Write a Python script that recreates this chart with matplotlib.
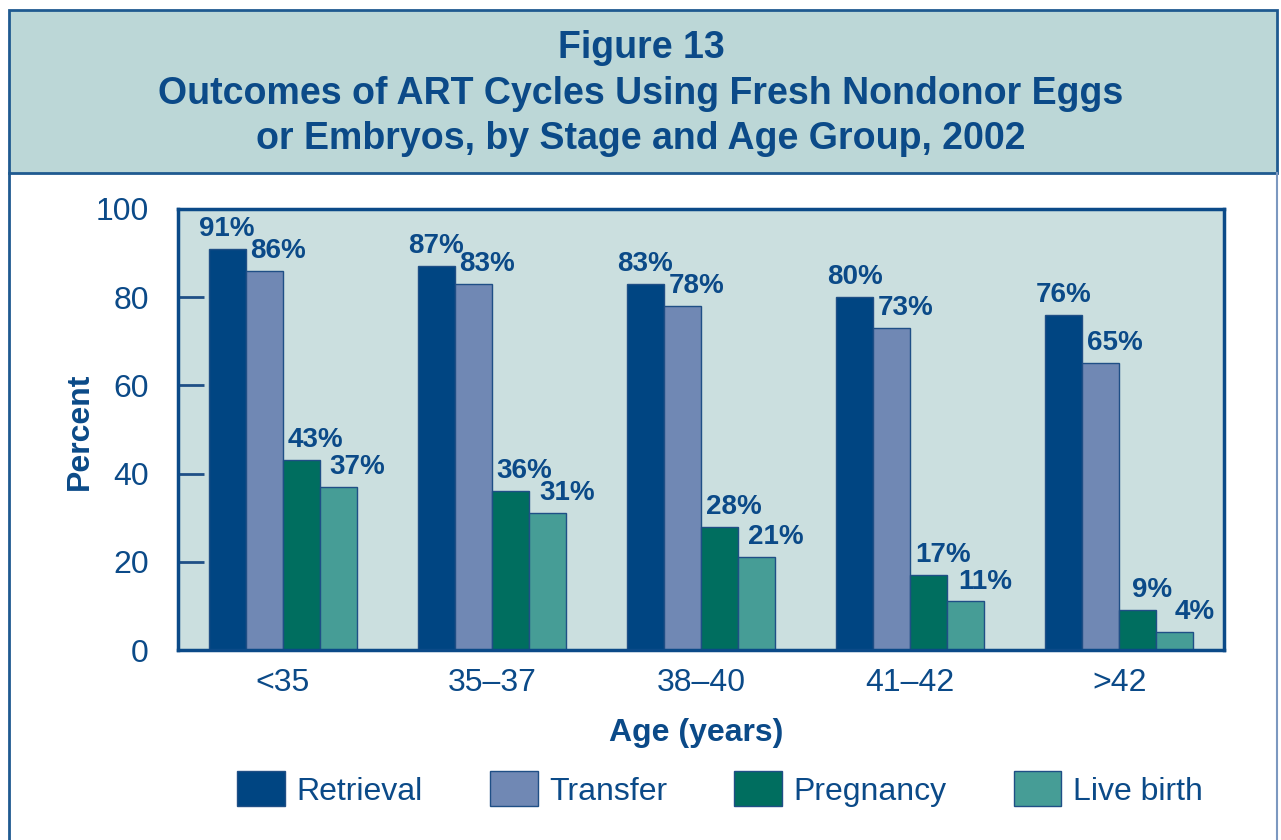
import matplotlib
matplotlib.use("Agg")
import matplotlib.pyplot as plt
import numpy as np
from matplotlib.patches import Rectangle
from matplotlib.lines import Line2D

plt.rcParams['font.family'] = ['Liberation Sans', 'DejaVu Sans']

categories = ["<35", "35\u201337", "38\u201340", "41\u201342", ">42"]
series_names = ["Retrieval", "Transfer", "Pregnancy", "Live birth"]
retrieval = [91, 87, 83, 80, 76]
transfer = [86, 83, 78, 73, 65]
pregnancy = [43, 36, 28, 17, 9]
live_birth = [37, 31, 21, 11, 4]
yticks = [0, 20, 40, 60, 80, 100]

colors = ["#004582", "#7088b4", "#006e5f", "#469d96"]
text_color = "#0b4a88"
edge = "#1f4f86"

fig = plt.figure(figsize=(12.81, 8.4), dpi=100)
W, H = 1281, 840

def fx(x): return x / W
def fy(y): return 1 - y / H

# header band and border
fig.patches.append(Rectangle((fx(9), fy(173)), fx(1277) - fx(9), fy(10) - fy(173),
                             transform=fig.transFigure, facecolor="#bcd7d7",
                             edgecolor="#1f5a90", linewidth=2, zorder=0))
fig.add_artist(Line2D([fx(9), fx(9)], [fy(173), 0], transform=fig.transFigure,
                      color="#1f5a90", linewidth=2))
fig.add_artist(Line2D([fx(1277), fx(1277)], [fy(173), 0], transform=fig.transFigure,
                      color="#7c98c0", linewidth=1.5))

titles = ["Figure 13", "Outcomes of ART Cycles Using Fresh Nondonor Eggs",
          "or Embryos, by Stage and Age Group, 2002"]
for t, y in zip(titles, [48, 94, 139]):
    fig.text(fx(641), fy(y), t, ha="center", va="center", fontsize=27,
             fontweight="bold", color=text_color)

ax = fig.add_axes([fx(178), fy(650), fx(1224) - fx(178), fy(209) - fy(650)])
ax.set_facecolor("#cbdfdf")
data = [retrieval, transfer, pregnancy, live_birth]
x = np.arange(len(categories))
bw = 0.177
offsets = [-1.5, -0.5, 0.5, 1.5]
lab_dx = [0, 10, 10, 14]
for i, (vals, name) in enumerate(zip(data, series_names)):
    pos = x + offsets[i] * bw
    ax.bar(pos, vals, width=bw, color=colors[i], edgecolor=edge, linewidth=1,
           label=name, zorder=2)
    for p, v in zip(pos, vals):
        ax.annotate(f"{v}%", (p, v), xytext=(lab_dx[i], 5), textcoords="offset points",
                    ha="center", va="bottom", fontsize=20, fontweight="bold",
                    color=text_color)

ax.set_xlim(-0.5, len(categories) - 0.5)
ax.set_ylim(0, 100)
ax.set_yticks(yticks)
ax.set_xticks(x)
ax.set_xticklabels(categories)
ax.tick_params(axis="y", direction="in", length=19, width=2, color=edge,
               labelsize=23, labelcolor=text_color, pad=21)
ax.tick_params(axis="x", length=0, labelsize=23, labelcolor=text_color, pad=13)
for s in ax.spines.values():
    s.set_color("#0b4a88")
    s.set_linewidth(2.5)

fig.text(fx(80), fy(431), "Percent", rotation=90, ha="center", va="center",
         fontsize=23, fontweight="bold", color=text_color)
fig.text(fx(696), fy(733), "Age (years)", ha="center", va="center",
         fontsize=23, fontweight="bold", color=text_color)

handles, labels = ax.get_legend_handles_labels()
leg = fig.legend(handles, labels, loc="center", bbox_to_anchor=(fx(720), fy(789)),
                 ncol=4, frameon=False, fontsize=23, handlelength=1.5,
                 handleheight=1.3, handletextpad=0.35, columnspacing=2.1)
for t in leg.get_texts():
    t.set_color(text_color)

fig.savefig("out.png", dpi=100)
